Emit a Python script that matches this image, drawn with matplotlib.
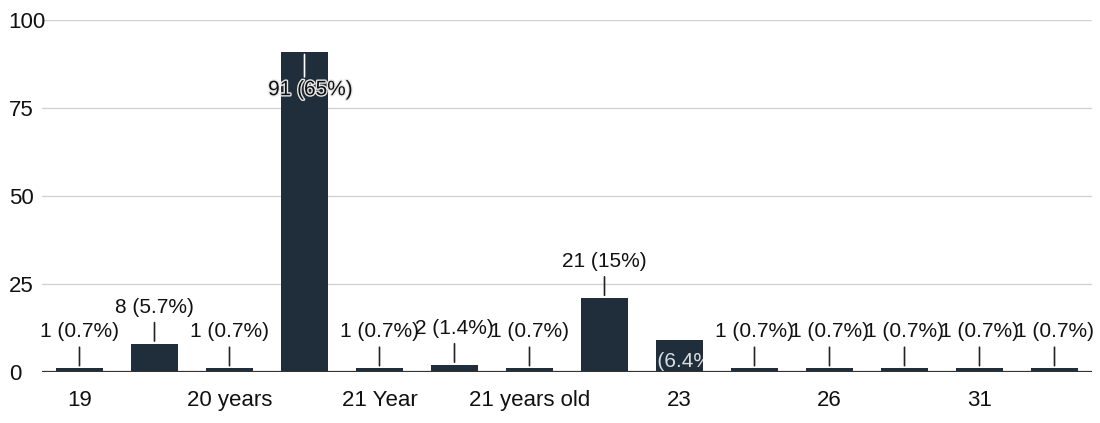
import matplotlib
matplotlib.use("Agg")
import matplotlib.pyplot as plt
import matplotlib.patheffects as pe

# responses per age answer (alphabetical, as the form lists them)
categories = ["19", "20", "20 years", "21", "21 Year", "21 years", "21 years old",
              "22", "23", "24", "26", "27", "31", "34"]
counts = [1, 8, 1, 91, 1, 2, 1, 21, 9, 1, 1, 1, 1, 1]
yticks = [0, 25, 50, 75, 100]

BAR = "#1f2e3a"
total = sum(counts)


def pct_label(v):
    p = f"{100 * v / total:.1f}".rstrip("0").rstrip(".")
    return f"{v} ({p}%)"


plt.rcParams["font.family"] = ["Liberation Sans", "DejaVu Sans"]
fig = plt.figure(figsize=(11, 4.23), dpi=100)
ax = fig.add_axes([42 / 1100, 51 / 423, 1050 / 1100, 352 / 423])

x = list(range(len(categories)))
bars = ax.bar(x, counts, width=0.63, color=BAR, zorder=2)

ax.set_xlim(-0.5, len(categories) - 0.5)
ax.set_ylim(0, 100)
ax.set_yticks(yticks)
ax.set_yticklabels([str(t) for t in yticks], fontsize=16, ha="left", color="#111111")
ax.tick_params(axis="y", length=0, pad=24)
ax.set_xticks(x)
ax.set_xticklabels([c if i % 2 == 0 else "" for i, c in enumerate(categories)],
                   fontsize=16, color="#111111")
ax.tick_params(axis="x", length=0, pad=13)
ax.grid(axis="y", color="#d2d2d2", lw=1.0, zorder=0)
for s in ax.spines.values():
    s.set_visible(False)
ax.axhline(0, color="#333333", lw=1.6, zorder=3)

px = 0.72  # points per pixel at dpi 100
for i, (b, v) in enumerate(zip(bars, counts)):
    cx = b.get_x() + b.get_width() / 2
    txt = pct_label(v)
    if v > 80:
        # label doesn't fit above: drawn inside the bar top
        ax.annotate("", xy=(cx, v), xytext=(0, -28 * px), textcoords="offset points",
                    arrowprops=dict(arrowstyle="-", color="white", lw=1.2), zorder=4)
        ax.annotate(txt, xy=(cx, v), xytext=(6 * px, -38 * px), textcoords="offset points",
                    ha="center", va="center", fontsize=15, color="#111111", zorder=5,
                    path_effects=[pe.withStroke(linewidth=2, foreground="#e8e8e8")])
    elif v == 9:
        # label squeezed inside the short bar and cut by its edges
        t = ax.text(cx, v / 2 - 1.5, txt, ha="center", va="center", fontsize=15,
                    color="#d8dde2", zorder=5, clip_on=True)
        t.set_clip_path(b)
    else:
        ax.annotate("", xy=(cx, v), xytext=(0, 24 * px), textcoords="offset points",
                    arrowprops=dict(arrowstyle="-", color="#222222", lw=1.2), zorder=4)
        ax.annotate(txt, xy=(cx, v), xytext=(0, 27 * px), textcoords="offset points",
                    ha="center", va="bottom", fontsize=15, color="#111111", zorder=5,
                    annotation_clip=False)

fig.savefig("out.png", dpi=100)
